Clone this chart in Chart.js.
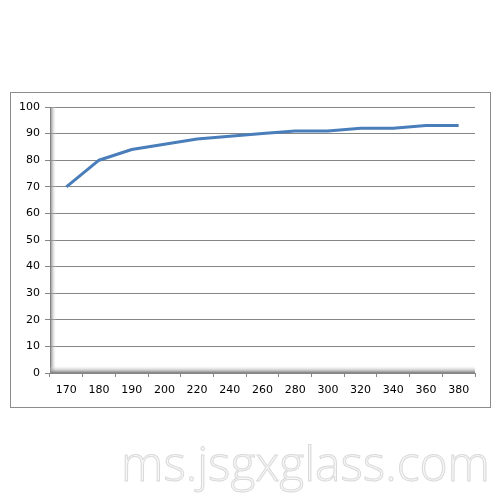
<!DOCTYPE html>
<html>
<head>
<meta charset="utf-8">
<script src="https://cdn.jsdelivr.net/npm/chart.js@4.4.0/dist/chart.umd.min.js"></script>
<style>
  body { margin: 0; background: #fff; }
  #wrap { position: relative; width: 500px; height: 500px; overflow: hidden; }
  #frame { position: absolute; left: 10px; top: 92px; width: 479px; height: 314px; border: 1px solid #8c8c8c; }
  #chart { position: absolute; left: 0; top: 0; }
  #mark { position: absolute; right: 10px; top: 433px; font-family: "Open Sans", sans-serif; font-weight: 300;
          font-size: 48px; line-height: 60px; color: #f6f6f6; -webkit-text-stroke: 1px #dadada; white-space: nowrap; }
</style>
</head>
<body>
<div id="wrap">
  <div id="frame"></div>
  <canvas id="chart" width="500" height="500"></canvas>
  <div id="mark">ms.jsgxglass.com</div>
</div>
<script>
// x categories and series values
var categories = ["170", "180", "190", "200", "220", "240", "260", "280", "300", "320", "340", "360", "380"];
var values = [70, 80, 84, 86, 88, 89, 90, 91, 91, 92, 92, 93, 93];
var yTicks = [0, 10, 20, 30, 40, 50, 60, 70, 80, 90, 100];

// grey 3D wall on the left and floor at the bottom, like the old excel chart
var wallPlugin = {
  id: "wall",
  beforeDatasetsDraw: function(chart) {
    var ctx = chart.ctx;
    var a = chart.chartArea;
    ctx.save();
    var g = ctx.createLinearGradient(a.left, 0, a.left + 6, 0);
    g.addColorStop(0, "#7a7a7a");
    g.addColorStop(1, "rgba(230,230,230,0)");
    ctx.fillStyle = g;
    ctx.fillRect(a.left, a.top, 6, a.bottom - a.top);
    var g2 = ctx.createLinearGradient(0, a.bottom, 0, a.bottom - 7);
    g2.addColorStop(0, "#7a7a7a");
    g2.addColorStop(1, "rgba(230,230,230,0)");
    ctx.fillStyle = g2;
    ctx.fillRect(a.left, a.bottom - 7, a.right - a.left, 7);
    ctx.restore();
  }
};

new Chart(document.getElementById("chart"), {
  type: "line",
  data: {
    labels: categories,
    datasets: [{
      data: values,
      borderColor: "#4a7ebb",
      borderWidth: 3,
      pointRadius: 0,
      tension: 0,
      fill: false
    }]
  },
  options: {
    responsive: false,
    animation: false,
    layout: { padding: { left: 0, right: 25, top: 107, bottom: 0 } },
    plugins: { legend: { display: false }, tooltip: { enabled: false } },
    scales: {
      x: {
        offset: true,
        grid: { offset: true, drawOnChartArea: false, color: "#868686", tickLength: 4 },
        border: { color: "#868686" },
        ticks: { color: "#000", padding: 7, maxRotation: 0, autoSkip: false, font: { family: "DejaVu Sans", size: 11 } },
        afterFit: function(s) { s.height = 127; }
      },
      y: {
        min: 0,
        max: 100,
        afterBuildTicks: function(s) { s.ticks = yTicks.map(function(v) { return { value: v }; }); },
        grid: { color: "#868686", tickLength: 5 },
        border: { color: "#868686" },
        ticks: { color: "#000", padding: 5, font: { family: "DejaVu Sans", size: 11 } },
        afterFit: function(s) { s.width = 50; }
      }
    }
  },
  plugins: [wallPlugin]
});
</script>
</body>
</html>
